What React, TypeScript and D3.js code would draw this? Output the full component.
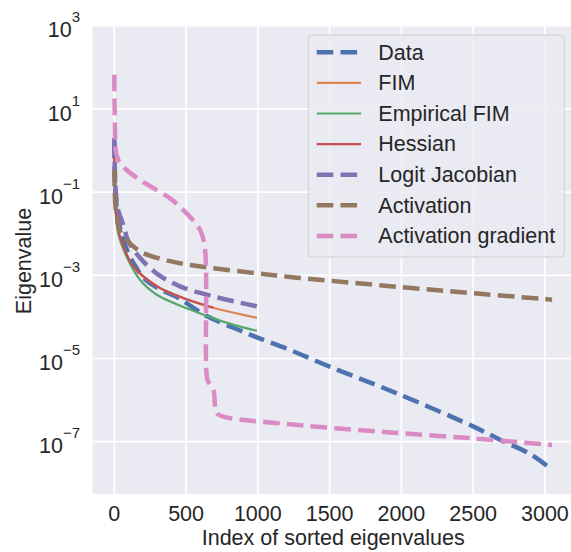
import React from "react";
import * as d3 from "d3";

// eigenvalue spectra, [index, eigenvalue]
const dataEig: [number, number][] = [
  [0, 1.6], [3, 0.32], [10, 0.079], [25, 0.025], [50, 0.01], [100, 3.2e-3],
  [150, 1.6e-3], [200, 8.9e-4], [300, 5.0e-4], [435, 3.0e-4], [481, 2.4e-4],
  [644, 1.05e-4], [877, 4.7e-5], [1016, 3.0e-5], [1225, 1.6e-5], [1504, 6.3e-6],
  [1969, 1.45e-6], [2503, 2.3e-7], [2690, 1.1e-7], [2900, 5.0e-8], [3050, 2.1e-8]
];
const fimEig: [number, number][] = [
  [0, 0.63], [3, 0.126], [10, 0.035], [25, 0.0126], [63, 4.9e-3], [133, 1.6e-3],
  [296, 5.4e-4], [481, 2.8e-4], [690, 1.66e-4], [993, 9.5e-5]
];
const empFimEig: [number, number][] = [
  [0, 0.5], [3, 0.11], [10, 0.032], [28, 0.01], [86, 2.8e-3], [179, 7.8e-4],
  [296, 3.4e-4], [528, 1.5e-4], [762, 7.6e-5], [993, 4.6e-5]
];
const hessianEig: [number, number][] = [
  [0, 0.7], [3, 0.13], [10, 0.036], [25, 0.013], [63, 5.0e-3], [133, 1.65e-3],
  [296, 5.5e-4], [481, 2.85e-4], [690, 1.66e-4]
];
const logitJacEig: [number, number][] = [
  [0, 2.0], [3, 0.45], [10, 0.11], [25, 0.04], [63, 0.016], [100, 6.3e-3],
  [180, 2.6e-3], [296, 1.1e-3], [458, 5.4e-4], [690, 3.1e-4], [993, 1.8e-4]
];
const activationEig: [number, number][] = [
  [0, 0.35], [4, 0.079], [10, 0.04], [17, 0.028], [35, 0.0126], [60, 8.9e-3],
  [86, 7.1e-3], [140, 4.7e-3], [203, 3.4e-3], [412, 2.1e-3], [644, 1.55e-3],
  [993, 1.12e-3], [1225, 9.1e-4], [1504, 7.4e-4], [2000, 5.2e-4], [2503, 3.7e-4],
  [3050, 2.6e-4]
];
const actGradEig: [number, number][] = [
  [0, 66], [5, 3.2], [12, 0.89], [25, 0.63], [40, 0.49], [86, 0.34], [179, 0.195],
  [296, 0.112], [400, 0.066], [481, 0.037], [560, 0.019], [598, 0.0123],
  [625, 6.3e-3], [637, 2.5e-3], [640, 6.3e-4], [641, 5.0e-6], [650, 3.0e-6],
  [691, 1.74e-6], [702, 6.9e-7], [714, 4.8e-7], [760, 4.0e-7], [1156, 2.75e-7],
  [1853, 1.74e-7], [2503, 1.2e-7], [3050, 8.3e-8]
];

const xTicks = [0, 500, 1000, 1500, 2000, 2500, 3000];
const yTickExps = [-7, -5, -3, -1, 1, 3];

const series = [
  { name: "Data", values: dataEig, color: "#4c72b0", dashed: true },
  { name: "FIM", values: fimEig, color: "#dd8452", dashed: false },
  { name: "Empirical FIM", values: empFimEig, color: "#55a868", dashed: false },
  { name: "Hessian", values: hessianEig, color: "#c44e52", dashed: false },
  { name: "Logit Jacobian", values: logitJacEig, color: "#8172b3", dashed: true },
  { name: "Activation", values: activationEig, color: "#937860", dashed: true },
  { name: "Activation gradient", values: actGradEig, color: "#da8bc3", dashed: true }
];

const W = 571;
const H = 552;
const plot = { left: 92.4, right: 574, top: 25.7, bottom: 494 };
const font = "'Liberation Sans', Arial, sans-serif";
const fs = 21.5;
const textColor = "#262626";
const dash = "16.6 7.2";

export default function App() {
  const x = d3.scaleLinear().domain([-152.5, 3202.5]).range([plot.left, plot.right]);
  const y = d3.scaleLog().domain([Math.pow(10, -8.257), 1e3]).range([plot.bottom, plot.top]);

  const line = d3
    .line<[number, number]>()
    .x(d => x(d[0]))
    .y(d => y(d[1]))
    .curve(d3.curveCatmullRom.alpha(0.5));

  const legend = { x: 308.3, y: 35, w: 256, h: 222, row0: 52.3, step: 30.6 };

  return (
    <svg
      width={W}
      height={H}
      style={{ position: "absolute", left: 0, top: 0, background: "#fff" }}
      fontFamily={font}
    >
      <defs>
        <clipPath id="plotClip">
          <rect x={plot.left} y={plot.top} width={plot.right - plot.left} height={plot.bottom - plot.top} />
        </clipPath>
      </defs>
      <rect x={plot.left} y={plot.top} width={plot.right - plot.left} height={plot.bottom - plot.top} fill="#eaeaf2" />

      {/* grid */}
      {xTicks.map(t => (
        <line key={"gx" + t} x1={x(t)} x2={x(t)} y1={plot.top} y2={plot.bottom} stroke="#fff" strokeWidth={1.7} />
      ))}
      {yTickExps.map(e => (
        <line key={"gy" + e} x1={plot.left} x2={plot.right} y1={y(Math.pow(10, e))} y2={y(Math.pow(10, e))} stroke="#fff" strokeWidth={1.7} />
      ))}

      {/* curves */}
      <g clipPath="url(#plotClip)">
        {series.map(s => (
          <path
            key={s.name}
            d={line(s.values) || ""}
            fill="none"
            stroke={s.color}
            strokeWidth={s.dashed ? 4.5 : 2.2}
            strokeDasharray={s.dashed ? dash : undefined}
            strokeLinecap="butt"
            strokeLinejoin="round"
          />
        ))}
      </g>

      {/* x tick labels */}
      {xTicks.map(t => (
        <text key={"xt" + t} x={x(t)} y={521.4} textAnchor="middle" fontSize={fs} fill={textColor}>
          {t}
        </text>
      ))}
      {/* y tick labels */}
      {yTickExps.map(e => {
        const yy = y(Math.pow(10, e));
        return (
          <text key={"yt" + e} x={80} y={yy + 11.7} textAnchor="end" fontSize={fs} fill={textColor}>
            10
            <tspan fontSize={15} dy={-15}>{e < 0 ? "\u2212" + Math.abs(e) : String(e)}</tspan>
          </text>
        );
      })}

      <text x={(plot.left + plot.right) / 2} y={545.3} textAnchor="middle" fontSize={fs} fill={textColor}>
        Index of sorted eigenvalues
      </text>
      <text transform={`translate(30.5, 261) rotate(-90)`} textAnchor="middle" fontSize={fs} fill={textColor}>
        Eigenvalue
      </text>

      {/* legend */}
      <rect
        x={legend.x}
        y={legend.y}
        width={legend.w}
        height={legend.h}
        rx={4}
        fill="#eaeaf2"
        fillOpacity={0.8}
        stroke="#d0d0d0"
        strokeWidth={1}
      />
      {series.map((s, i) => {
        const ry = legend.row0 + i * legend.step;
        return (
          <g key={"lg" + s.name}>
            <line
              x1={316.7}
              x2={361}
              y1={ry}
              y2={ry}
              stroke={s.color}
              strokeWidth={s.dashed ? 4.5 : 2.2}
              strokeDasharray={s.dashed ? dash : undefined}
            />
            <text x={378.3} y={ry + 7.3} fontSize={fs} fill={textColor}>
              {s.name}
            </text>
          </g>
        );
      })}
    </svg>
  );
}
